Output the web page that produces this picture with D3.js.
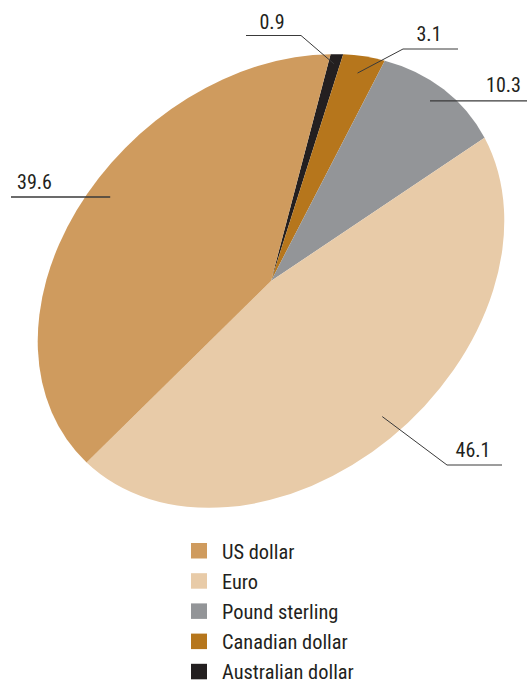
<!DOCTYPE html>
<html>
<head>
<meta charset="utf-8">
<script src="https://cdn.jsdelivr.net/npm/d3@7"></script>
<style>
  html, body { margin: 0; padding: 0; background: #fff; }
  svg text { font-family: "Liberation Sans Narrow", "Arial Narrow", "Roboto Condensed", "Liberation Sans", sans-serif; fill: #231f20; font-weight: 400; }
</style>
</head>
<body>
<svg id="chart" width="527" height="682"></svg>
<script>
// Currency shares, drawn clockwise from the top
const categories = ["Australian dollar", "Canadian dollar", "Pound sterling", "Euro", "US dollar"];
const values = [0.9, 3.1, 10.3, 46.1, 39.6];
const valueLabels = ["0.9", "3.1", "10.3", "46.1", "39.6"];
const legendOrder = ["US dollar", "Euro", "Pound sterling", "Canadian dollar", "Australian dollar"];
const colors = ["#231f20", "#b6761c", "#939598", "#e8cba8", "#cf9b5e"];

const svg = d3.select("#chart");

// Pie geometry: a circle stretched into a tilted ellipse
const cx = 271, cy = 281;
const R = 200;              // base arc radius
const ax = 259, by = 197;   // ellipse semi-axes
const tilt = -42;           // degrees
const startDeg = 49.2;

const color = d3.scaleOrdinal().domain(categories).range(colors);

const pie = d3.pie().sort(null).value(d => d.value)
  .startAngle(startDeg * Math.PI / 180)
  .endAngle((startDeg + 360) * Math.PI / 180);

const arcs = pie(categories.map((c, i) => ({ name: c, value: values[i], label: valueLabels[i] })));
const arc = d3.arc().innerRadius(0).outerRadius(R);

const pieG = svg.append("g")
  .attr("transform", `translate(${cx},${cy}) rotate(${tilt}) scale(${ax / R},${by / R})`);

pieG.selectAll("path").data(arcs).join("path")
  .attr("d", arc)
  .attr("fill", d => color(d.data.name));

// Map an angle (d3 convention) and radius fraction onto the page
const rad = tilt * Math.PI / 180;
function project(angle, k) {
  const x = ax * k * Math.sin(angle);
  const y = -by * k * Math.cos(angle);
  return [cx + x * Math.cos(rad) - y * Math.sin(rad),
          cy + x * Math.sin(rad) + y * Math.cos(rad)];
}

// Leader line layout per slice
const leaders = {
  "Australian dollar": { t: 0.5,  k: 0.957, elbow: [301, 35.5], end: [246, 35.5], text: [272, 29] },
  "Canadian dollar":   { t: 0.5,  k: 0.926, elbow: [403, 49],   end: [458, 49],   text: [429, 41] },
  "Pound sterling":    { t: 0.48, k: 0.932, elbow: null,        endX: 527,        text: [503.5, 92] },
  "Euro":              { t: 0.49, k: 0.89,  elbow: [447, 465],  end: [502, 465],  text: [473, 457] },
  "US dollar":         { t: 0.544, k: 0.897, elbow: null,       endX: 11,         text: [34.5, 189] }
};

const labelG = svg.append("g");
arcs.forEach(d => {
  const L = leaders[d.data.name];
  const ang = d.startAngle + (d.endAngle - d.startAngle) * L.t;
  const p0 = project(ang, L.k);
  const pts = L.elbow ? [p0, L.elbow, L.end] : [p0, [L.endX, p0[1]]];
  labelG.append("path")
    .attr("d", d3.line()(pts))
    .attr("fill", "none")
    .attr("stroke", "#3a3a3a")
    .attr("stroke-width", L.elbow ? 1 : 1.4);
  labelG.append("text")
    .attr("x", L.text[0]).attr("y", L.text[1])
    .attr("text-anchor", "middle")
    .attr("font-size", 20)
    .text(d.data.label);
});

// Legend
const legend = svg.append("g").attr("transform", "translate(191,543)");
const rows = legend.selectAll("g").data(legendOrder).join("g")
  .attr("transform", (d, i) => `translate(0,${i * 30.2})`);
rows.append("rect").attr("width", 16).attr("height", 15.5).attr("fill", d => color(d));
rows.append("text").attr("x", 31).attr("y", 15.5).attr("font-size", 20.4).text(d => d);
</script>
</body>
</html>
